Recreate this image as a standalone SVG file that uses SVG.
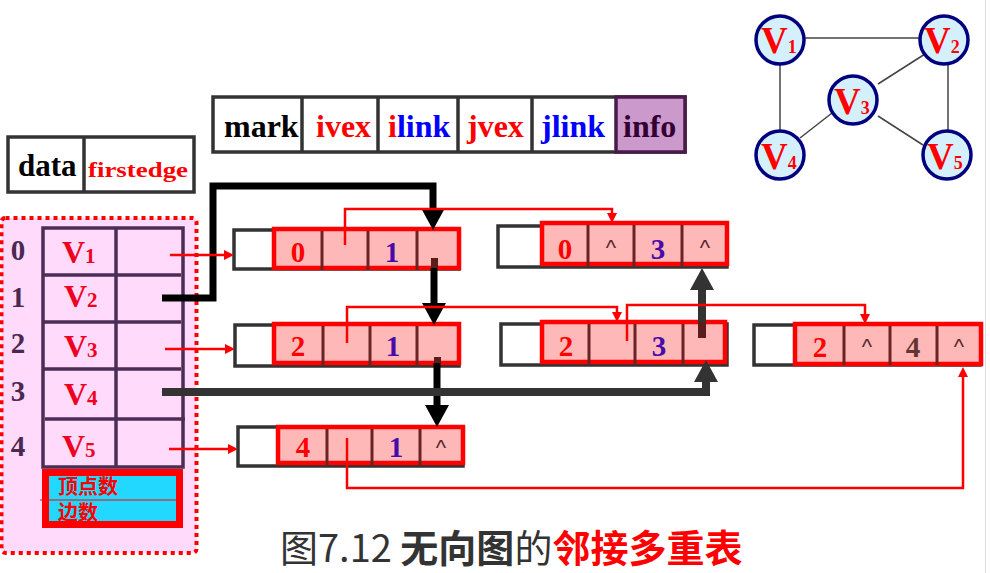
<svg xmlns="http://www.w3.org/2000/svg" width="990" height="573" viewBox="0 0 990 573">
<defs>
<style>
.serif{font-family:"Liberation Serif","Times New Roman",serif;font-weight:bold}
.cjk{font-family:"Noto Sans CJK SC","Noto Sans",sans-serif}
.hdr{fill:#fff;stroke:#333;stroke-width:3.5}
.hdiv{stroke:#333;stroke-width:3.5}
.lbl{font-size:32px}
.idx{font-size:29px;fill:#4B2850;text-anchor:middle}
.vt{font-size:32px;fill:#F00020}
.sub{font-size:21px}
.tbl{fill:none;stroke:#4B2D55;stroke-width:3.5}
.bg{fill:#fff;stroke:#333;stroke-width:3.5}
.rb{fill:#FFB8B8;stroke:#F00;stroke-width:4.5}
.dv{stroke:#6B2222;stroke-width:3}
.num{font-size:29px;text-anchor:middle}
.r{fill:#F00}
.b{fill:#4A0AAA}
.br{fill:#663333}
.caret{font-family:"Liberation Sans",Arial,sans-serif;font-size:22px;fill:#5A2A2A;text-anchor:middle}
.thick{fill:none;stroke:#000;stroke-width:7}
.grey{fill:none;stroke:#333;stroke-width:8}
.thin{fill:none;stroke:#F00;stroke-width:2.5;marker-end:url(#ahR)}
.stub{fill:#5C1C1C}
.gn{fill:#D4F0FC;stroke:#00007F;stroke-width:3.5}
.ge{stroke:#444;stroke-width:1.5}
.gv{font-size:37px;fill:#F00}
.gs{font-size:18px}
</style>
<marker id="ahK" markerUnits="userSpaceOnUse" markerWidth="24" markerHeight="24" refX="0" refY="12" orient="auto" overflow="visible"><path d="M0,0 L22,12 L0,24 z" fill="#000"/></marker>
<marker id="ahG" markerUnits="userSpaceOnUse" markerWidth="24" markerHeight="24" refX="0" refY="12" orient="auto" overflow="visible"><path d="M0,0 L22,12 L0,24 z" fill="#333"/></marker>
<marker id="ahR" markerUnits="userSpaceOnUse" markerWidth="10" markerHeight="10" refX="0" refY="5" orient="auto" overflow="visible"><path d="M0,0 L10,5 L0,10 z" fill="#F00"/></marker>
</defs>
<rect width="990" height="573" fill="#fff"/>
<line x1="985.5" y1="0" x2="985.5" y2="573" stroke="#DDD" stroke-width="1"/>

<!-- header data / firstedge -->
<g id="hdr-vertex">
<rect class="hdr" x="8" y="137" width="186" height="55"/>
<line class="hdiv" x1="84" y1="137" x2="84" y2="192"/>
<text class="serif" x="18" y="176" font-size="31" fill="#000">data</text>
<text class="serif" x="88" y="177" font-size="22" fill="#F00" textLength="100" lengthAdjust="spacingAndGlyphs">firstedge</text>
</g>

<!-- header edge node -->
<g id="hdr-edge">
<rect class="hdr" x="213" y="97" width="472" height="55"/>
<rect x="616" y="97" width="69" height="55" fill="#CC99CC" stroke="#4B1A4B" stroke-width="3.5"/>
<line class="hdiv" x1="302" y1="97" x2="302" y2="152"/>
<line class="hdiv" x1="378" y1="97" x2="378" y2="152"/>
<line class="hdiv" x1="458" y1="97" x2="458" y2="152"/>
<line class="hdiv" x1="532" y1="97" x2="532" y2="152"/>
<text class="serif lbl" x="224" y="137" fill="#000">mark</text>
<text class="serif lbl" x="316" y="137" fill="#F00">ivex</text>
<text class="serif lbl" x="388" y="137"><tspan fill="#F00">i</tspan><tspan fill="#00F">link</tspan></text>
<text class="serif lbl" x="467" y="137" fill="#F00">jvex</text>
<text class="serif lbl" x="541" y="137" fill="#00F">jlink</text>
<text class="serif lbl" x="623" y="137" fill="#330033">info</text>
</g>

<!-- vertex table -->
<g id="vertex-table">
<rect x="1.5" y="218" width="195" height="335" rx="4" fill="#FFDAFB" stroke="#F00" stroke-width="4" stroke-dasharray="4 4"/>
<rect class="tbl" x="43" y="228" width="140" height="239"/>
<line class="tbl" x1="43" y1="275" x2="181" y2="275"/>
<line class="tbl" x1="43" y1="322" x2="181" y2="322"/>
<line class="tbl" x1="43" y1="369" x2="181" y2="369"/>
<line class="tbl" x1="45" y1="419" x2="185" y2="419"/>
<line class="tbl" x1="116" y1="228" x2="116" y2="467"/>
<text class="serif idx" x="18" y="260">0</text>
<text class="serif idx" x="18" y="307">1</text>
<text class="serif idx" x="18" y="353">2</text>
<text class="serif idx" x="18" y="401">3</text>
<text class="serif idx" x="18" y="456">4</text>
<text class="serif vt" x="62" y="263">V<tspan class="sub">1</tspan></text>
<text class="serif vt" x="64" y="307">V<tspan class="sub">2</tspan></text>
<text class="serif vt" x="64" y="357">V<tspan class="sub">3</tspan></text>
<text class="serif vt" x="64" y="405">V<tspan class="sub">4</tspan></text>
<text class="serif vt" x="62" y="457">V<tspan class="sub">5</tspan></text>
<rect x="45.5" y="472.5" width="134" height="52" fill="#22D8FF" stroke="#F00" stroke-width="7"/>
<line x1="40" y1="500" x2="176" y2="500" stroke="#F00" stroke-width="1.2"/>
<text class="cjk" x="58" y="494" font-size="20" font-weight="bold" fill="#F00">顶点数</text>
<text class="cjk" x="58" y="520" font-size="20" font-weight="bold" fill="#F00">边数</text>
</g>

<!-- edge nodes -->
<g id="edge-01" transform="translate(274,229)">
<rect class="bg" x="-40" y="1" width="225" height="39"/>
<rect class="rb" x="0" y="0" width="185" height="39"/>
<line class="dv" x1="48" y1="2" x2="48" y2="41"/><line class="dv" x1="94" y1="2" x2="94" y2="41"/><line class="dv" x1="143" y1="2" x2="143" y2="41"/>
<text class="serif num r" x="24" y="33">0</text>
<text class="serif num b" x="118" y="33">1</text>
</g>
<g id="edge-03" transform="translate(542,223)">
<rect class="bg" x="-44" y="3" width="229" height="41"/>
<rect class="rb" x="0" y="0" width="185" height="41"/>
<line class="dv" x1="46" y1="2" x2="46" y2="43"/><line class="dv" x1="92" y1="2" x2="92" y2="43"/><line class="dv" x1="140" y1="2" x2="140" y2="43"/>
<text class="serif num r" x="23" y="36">0</text>
<text class="caret" x="69" y="32">^</text>
<text class="serif num b" x="116" y="36">3</text>
<text class="caret" x="163" y="32">^</text>
</g>
<g id="edge-21" transform="translate(274,324)">
<rect class="bg" x="-39" y="1" width="224" height="41"/>
<rect class="rb" x="0" y="0" width="185" height="39"/>
<line class="dv" x1="49" y1="2" x2="49" y2="42"/><line class="dv" x1="96" y1="2" x2="96" y2="42"/><line class="dv" x1="143" y1="2" x2="143" y2="42"/>
<text class="serif num r" x="24" y="32">2</text>
<text class="serif num b" x="119" y="32">1</text>
</g>
<g id="edge-41" transform="translate(278,427)">
<rect class="bg" x="-40" y="0" width="225" height="39"/>
<rect class="rb" x="0" y="0" width="185" height="36"/>
<line class="dv" x1="49" y1="2" x2="49" y2="39"/><line class="dv" x1="94" y1="2" x2="94" y2="39"/><line class="dv" x1="142" y1="2" x2="142" y2="39"/>
<text class="serif num r" x="25" y="30">4</text>
<text class="serif num b" x="118" y="30">1</text>
<text class="caret" x="163" y="28">^</text>
</g>
<g id="edge-23" transform="translate(542,322)">
<rect class="bg" x="-41" y="2" width="226" height="41"/>
<rect class="rb" x="0" y="0" width="183" height="40"/>
<line class="dv" x1="47" y1="2" x2="47" y2="42"/><line class="dv" x1="93" y1="2" x2="93" y2="42"/><line class="dv" x1="141" y1="2" x2="141" y2="42"/>
<text class="serif num r" x="24" y="34">2</text>
<text class="serif num b" x="117" y="34">3</text>
</g>
<g id="edge-24" transform="translate(795,324)">
<rect class="bg" x="-41" y="1" width="226" height="40"/>
<rect class="rb" x="0" y="0" width="186" height="40"/>
<line class="dv" x1="49" y1="2" x2="49" y2="41"/><line class="dv" x1="95" y1="2" x2="95" y2="41"/><line class="dv" x1="142" y1="2" x2="142" y2="41"/>
<text class="serif num r" x="25" y="33">2</text>
<text class="caret" x="72" y="30">^</text>
<text class="serif num br" x="118" y="33">4</text>
<text class="caret" x="164" y="30">^</text>
</g>

<!-- graph -->
<g id="graph-edges">
<line class="ge" x1="804" y1="38" x2="919" y2="38"/>
<line class="ge" x1="780" y1="65" x2="780" y2="130"/>
<line class="ge" x1="948" y1="65" x2="948" y2="131"/>
<line class="ge" x1="878" y1="84" x2="925" y2="54"/>
<line class="ge" x1="832" y1="113" x2="800" y2="138"/>
<line class="ge" x1="878" y1="116" x2="923" y2="145"/>
</g>
<g id="gV1"><circle class="gn" cx="780" cy="40" r="24"/><text class="serif gv" x="761" y="53">V<tspan class="gs">1</tspan></text></g>
<g id="gV2"><circle class="gn" cx="944" cy="40" r="24"/><text class="serif gv" x="924" y="53">V<tspan class="gs">2</tspan></text></g>
<g id="gV3"><circle class="gn" cx="853" cy="100" r="24"/><text class="serif gv" x="834" y="114">V<tspan class="gs">3</tspan></text></g>
<g id="gV4"><circle class="gn" cx="780" cy="155" r="24"/><text class="serif gv" x="761" y="169">V<tspan class="gs">4</tspan></text></g>
<g id="gV5"><circle class="gn" cx="947" cy="155" r="24"/><text class="serif gv" x="927" y="169">V<tspan class="gs">5</tspan></text></g>

<!-- connectors -->
<g id="connectors">
<path class="thick" d="M162,298 H213 V186 H433 V208" marker-end="url(#ahK)"/>
<rect class="stub" x="431" y="258" width="7" height="10"/>
<path class="thick" d="M434,268 V303" marker-end="url(#ahK)"/>
<rect class="stub" x="434" y="357" width="7" height="6"/>
<path class="thick" d="M437,363 V405" marker-end="url(#ahK)"/>
<path class="grey" d="M162,392 H706 V382" marker-end="url(#ahG)"/>
<path class="grey" d="M702,338 V290" marker-end="url(#ahG)"/>
<rect class="stub" x="698" y="322" width="8" height="16"/>
<path class="thin" d="M170,255 H224"/>
<path class="thin" d="M165,349 H225"/>
<path class="thin" d="M169,449 H228"/>
<path class="thin" d="M345,245 V209 H612 V213"/>
<path class="thin" d="M347,343 V307 H617 V312"/>
<path class="thin" d="M627,341 V305 H865 V314"/>
<path class="thin" d="M347,438 V488 H963 V377"/>
</g>

<!-- caption -->
<text class="cjk" x="280" y="562" font-size="38" fill="#333">图7.12 <tspan font-weight="bold">无向图</tspan>的<tspan font-weight="bold" fill="#F00">邻接多重表</tspan></text>
</svg>
